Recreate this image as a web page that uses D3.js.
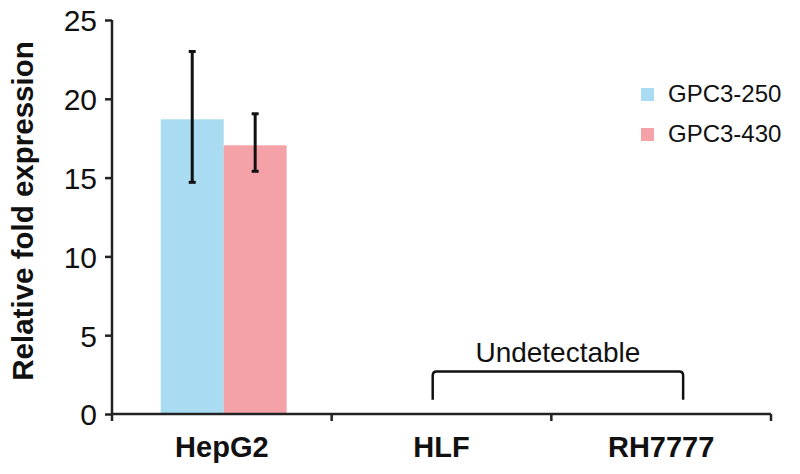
<!DOCTYPE html>
<html>
<head>
<meta charset="utf-8">
<script src="https://cdn.jsdelivr.net/npm/d3@7"></script>
<style>
  body { margin: 0; background: #fff; }
  svg { display: block; font-family: "Liberation Sans", Arial, sans-serif; }
</style>
</head>
<body>
<svg id="chart" width="800" height="474"></svg>
<script>
const categories = ["HepG2", "HLF", "RH7777"];
const seriesNames = ["GPC3-250", "GPC3-430"];
const seriesColors = ["#a9dcf2", "#f4a2a7"];
const gpc3_250 = [18.7, 0, 0];
const gpc3_430 = [17.05, 0, 0];
const gpc3_250_errLow = [14.7, null, null];
const gpc3_250_errHigh = [23.0, null, null];
const gpc3_430_errLow = [15.4, null, null];
const gpc3_430_errHigh = [19.05, null, null];
const yTicks = [0, 5, 10, 15, 20, 25];
const annotationText = "Undetectable";
const annotationCats = ["HLF", "RH7777"];

const svg = d3.select("#chart");
const margin = { top: 20, left: 112, right: 29, bottom: 60 };
const W = 800, H = 474;
const plotBottom = 414;

const x = d3.scaleBand().domain(categories).range([margin.left, W - margin.right]).padding(0);
const y = d3.scaleLinear().domain([0, 25]).range([plotBottom, margin.top]);
const inner = d3.scaleBand().domain(seriesNames).range([x.bandwidth() * 0.222, x.bandwidth() * 0.795]).padding(0);

const values = [gpc3_250, gpc3_430];
const errLow = [gpc3_250_errLow, gpc3_430_errLow];
const errHigh = [gpc3_250_errHigh, gpc3_430_errHigh];

const rows = [];
categories.forEach((c, i) => {
  seriesNames.forEach((s, j) => {
    rows.push({ cat: c, series: s, j, value: values[j][i], lo: errLow[j][i], hi: errHigh[j][i] });
  });
});

// bars
svg.append("g").selectAll("rect").data(rows.filter(d => d.value > 0)).join("rect")
  .attr("x", d => x(d.cat) + inner(d.series))
  .attr("width", inner.bandwidth())
  .attr("y", d => y(d.value))
  .attr("height", d => y(0) - y(d.value))
  .attr("fill", d => seriesColors[d.j]);

// error bars
const eg = svg.append("g").attr("stroke", "#111").attr("stroke-width", 3);
rows.filter(d => d.lo != null).forEach(d => {
  const cx = x(d.cat) + inner(d.series) + inner.bandwidth() / 2;
  eg.append("line").attr("x1", cx).attr("x2", cx).attr("y1", y(d.hi)).attr("y2", y(d.lo));
  eg.append("line").attr("x1", cx - 3.5).attr("x2", cx + 3.5).attr("y1", y(d.hi)).attr("y2", y(d.hi));
  eg.append("line").attr("x1", cx - 3.5).attr("x2", cx + 3.5).attr("y1", y(d.lo)).attr("y2", y(d.lo));
});

// y axis
const yAxis = svg.append("g").attr("transform", `translate(${margin.left},0)`)
  .call(d3.axisLeft(y).tickValues(yTicks).tickSize(7).tickPadding(8));
yAxis.select(".domain").attr("stroke", "#222").attr("stroke-width", 2.5).attr("d", `M0,${margin.top}V${plotBottom}`);
yAxis.selectAll(".tick line").attr("stroke", "#222").attr("stroke-width", 2.5);
yAxis.selectAll(".tick text").attr("font-size", 30).attr("fill", "#111")
  .attr("font-family", "Liberation Sans, Arial, sans-serif").attr("dy", "0.36em");

// x axis
const xAxis = svg.append("g").attr("transform", `translate(0,${plotBottom})`)
  .call(d3.axisBottom(x).tickSize(0).tickPadding(22));
xAxis.select(".domain").attr("stroke", "#222").attr("stroke-width", 2.5)
  .attr("d", `M${margin.left},0H${W - margin.right}`);
xAxis.selectAll(".tick text").attr("font-size", 29).attr("font-weight", "bold").attr("fill", "#111")
  .attr("font-family", "Liberation Sans, Arial, sans-serif").attr("dy", "0.71em");
// boundary ticks
const bounds = categories.map(c => x(c)).concat([x(categories[categories.length - 1]) + x.bandwidth()]);
svg.append("g").selectAll("line").data(bounds).join("line")
  .attr("x1", d => d).attr("x2", d => d)
  .attr("y1", plotBottom).attr("y2", plotBottom + 7)
  .attr("stroke", "#222").attr("stroke-width", 2.5);

// y label
svg.append("text")
  .attr("transform", `translate(33,211) rotate(-90)`)
  .attr("text-anchor", "middle")
  .attr("font-size", 29.5).attr("font-weight", "bold").attr("fill", "#111")
  .text("Relative fold expression");

// annotation bracket
const bx1 = x(annotationCats[0]) + x.bandwidth() * 0.46;
const bx2 = x(annotationCats[1]) + x.bandwidth() * 0.6;
const byTop = y(2.7), byBot = y(0.9);
svg.append("path")
  .attr("d", `M${bx1},${byBot}V${byTop + 4}Q${bx1},${byTop} ${bx1 + 4},${byTop}H${bx2 - 4}Q${bx2},${byTop} ${bx2},${byTop + 4}V${byBot}`)
  .attr("fill", "none").attr("stroke", "#111").attr("stroke-width", 2.5);
svg.append("text")
  .attr("x", (bx1 + bx2) / 2).attr("y", y(3.3))
  .attr("text-anchor", "middle").attr("font-size", 28).attr("fill", "#111")
  .text(annotationText);

// legend
const legend = svg.append("g");
seriesNames.forEach((s, j) => {
  const ly = 88 + j * 40;
  legend.append("rect").attr("x", 641).attr("y", ly).attr("width", 13).attr("height", 13).attr("fill", seriesColors[j]);
  legend.append("text").attr("x", 668).attr("y", ly + 14).attr("font-size", 24).attr("fill", "#111").text(s);
});
</script>
</body>
</html>
